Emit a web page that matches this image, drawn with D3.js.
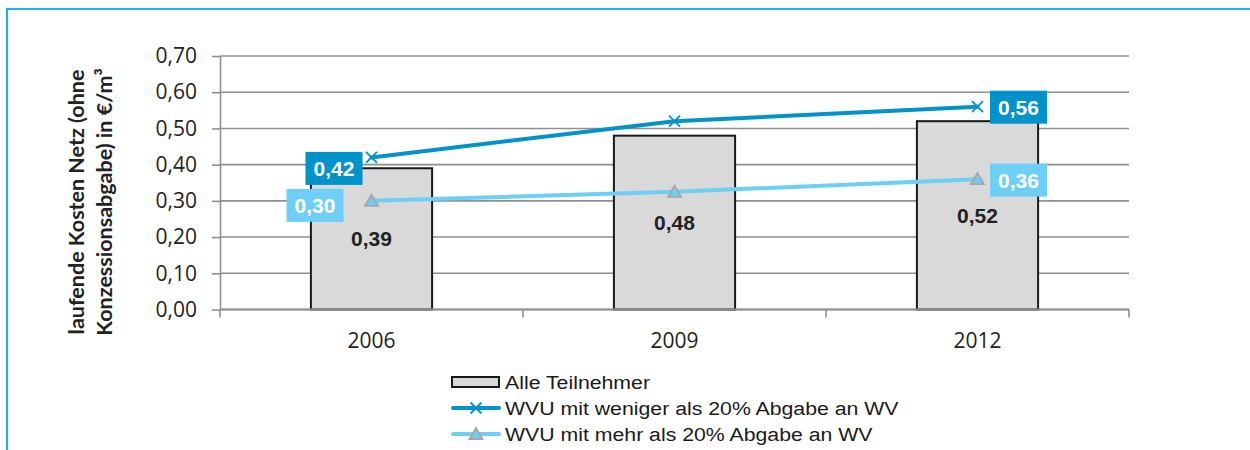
<!DOCTYPE html>
<html>
<head>
<meta charset="utf-8">
<script src="https://cdn.jsdelivr.net/npm/d3@7"></script>
<style>
  html, body { margin: 0; padding: 0; background: #fff; }
  svg { display: block; }
</style>
</head>
<body>
<svg id="chart" width="1250" height="450"></svg>
<script>
// Netzkosten je m³ nach Jahr
const categories = ["2006", "2009", "2012"];
const allParticipants = [0.39, 0.48, 0.52];
const lessThan20 = [0.42, 0.52, 0.56];
const moreThan20 = [0.30, 0.325, 0.36];
const labelledPoints = [0, 2];
const yTicks = [0, 0.1, 0.2, 0.3, 0.4, 0.5, 0.6, 0.7];
const seriesNames = [
  "Alle Teilnehmer",
  "WVU mit weniger als 20% Abgabe an WV",
  "WVU mit mehr als 20% Abgabe an WV"
];
const yTitle = ["laufende Kosten Netz (ohne", "Konzessionsabgabe) in €/m³"];

// layout
const plot = { left: 220, right: 1129, top: 56, bottom: 309.5 };
const DARK = "#0093c9", LIGHT = "#6dcff6", GRID = "#8f8f8f";
// label box placement relative to its point: side, vertical shift
const darkLabelPos = [{ side: "left", gap: 9, dy: 11 }, null, { side: "right", gap: 12.5, dy: 0.5 }];
const lightLabelPos = [{ side: "left", gap: 28, dy: 4.5 }, null, { side: "right", gap: 12.5, dy: 1 }];

const fmt = v => d3.format(".2f")(v).replace(".", ",");

const svg = d3.select("#chart");

// frame
svg.append("path")
  .attr("d", "M7,450 V9 H1250")
  .attr("fill", "none").attr("stroke", "#1cb3ea").attr("stroke-width", 2);

const x = d3.scaleBand().domain(categories)
  .range([plot.left, plot.right]).paddingInner(0.6).paddingOuter(0.3);
const y = d3.scaleLinear().domain([0, 0.7]).range([plot.bottom, plot.top]);
const cx = c => x(c) + x.bandwidth() / 2;

// gridlines
svg.append("g").selectAll("line").data(yTicks).join("line")
  .attr("x1", plot.left).attr("x2", plot.right)
  .attr("y1", d => y(d)).attr("y2", d => y(d))
  .attr("stroke", GRID).attr("stroke-width", 1.6);

// y axis
const yAxis = svg.append("g").attr("transform", `translate(${plot.left},0)`)
  .call(d3.axisLeft(y).tickValues(yTicks).tickFormat(fmt).tickSize(8).tickSizeOuter(0).tickPadding(15));
yAxis.select(".domain").attr("stroke", GRID).attr("stroke-width", 1.6);
yAxis.selectAll(".tick line").attr("stroke", GRID).attr("stroke-width", 1.6);
yAxis.selectAll(".tick text")
  .attr("font-family", "'Open Sans', sans-serif").attr("font-size", 21).attr("fill", "#222");

// bars
svg.append("g").selectAll("rect").data(allParticipants).join("rect")
  .attr("x", (d, i) => x(categories[i]))
  .attr("width", x.bandwidth())
  .attr("y", d => y(d))
  .attr("height", d => y(0) - y(d))
  .attr("fill", "#d9d9d9").attr("stroke", "#1a1a1a").attr("stroke-width", 2);

// x axis
const step = x.step();
svg.append("line")
  .attr("x1", plot.left).attr("x2", plot.right)
  .attr("y1", y(0)).attr("y2", y(0))
  .attr("stroke", GRID).attr("stroke-width", 2);
const boundaries = d3.range(categories.length + 1).map(i => plot.left + i * step);
svg.append("g").selectAll("line").data(boundaries).join("line")
  .attr("x1", d => d).attr("x2", d => d)
  .attr("y1", y(0)).attr("y2", y(0) + 8)
  .attr("stroke", GRID).attr("stroke-width", 1.6);
svg.append("g").selectAll("text").data(categories).join("text")
  .attr("x", d => cx(d)).attr("y", 348)
  .attr("text-anchor", "middle")
  .attr("font-family", "'Open Sans', sans-serif").attr("font-size", 21).attr("fill", "#222")
  .text(d => d);

// bar value labels, centred in the bar
svg.append("g").selectAll("text").data(allParticipants).join("text")
  .attr("x", (d, i) => cx(categories[i]))
  .attr("y", d => y(d / 2))
  .attr("dy", "0.36em")
  .attr("text-anchor", "middle")
  .attr("font-family", "'Liberation Sans', Arial, sans-serif").attr("font-weight", "bold")
  .attr("font-size", 21).attr("fill", "#222")
  .text(d => fmt(d));

// lines
const line = d3.line().x((d, i) => cx(categories[i])).y(d => y(d));
svg.append("path").datum(lessThan20).attr("d", line)
  .attr("fill", "none").attr("stroke", DARK).attr("stroke-width", 4).attr("stroke-linecap", "round");
svg.append("path").datum(moreThan20).attr("d", line)
  .attr("fill", "none").attr("stroke", LIGHT).attr("stroke-width", 4).attr("stroke-linecap", "round");

// markers
const cross = (g, px, py) => g.append("path")
  .attr("d", `M${px - 5.5},${py - 5.5}L${px + 5.5},${py + 5.5}M${px - 5.5},${py + 5.5}L${px + 5.5},${py - 5.5}`)
  .attr("stroke", DARK).attr("stroke-width", 1.8).attr("fill", "none");
const tri = (g, px, py) => g.append("path")
  .attr("d", `M${px},${py - 6}L${px + 6.5},${py + 5}L${px - 6.5},${py + 5}Z`)
  .attr("fill", LIGHT).attr("stroke", "#a6a6a6").attr("stroke-width", 1.8);
const mk = svg.append("g");
lessThan20.forEach((d, i) => cross(mk, cx(categories[i]), y(d)));
moreThan20.forEach((d, i) => tri(mk, cx(categories[i]), y(d)));

// boxed value labels
const boxW = 57, boxH = 33;
function boxLabels(values, pos, color) {
  const g = svg.append("g");
  labelledPoints.forEach(i => {
    const px = cx(categories[i]), py = y(values[i]), p = pos[i];
    const bx = p.side === "left" ? px - p.gap - boxW : px + p.gap;
    const by = py + p.dy - boxH / 2;
    g.append("rect").attr("x", bx).attr("y", by).attr("width", boxW).attr("height", boxH).attr("fill", color);
    g.append("text").attr("x", bx + boxW / 2).attr("y", by + boxH / 2).attr("dy", "0.36em")
      .attr("text-anchor", "middle")
      .attr("font-family", "'Liberation Sans', Arial, sans-serif").attr("font-weight", "bold")
      .attr("font-size", 21).attr("fill", "#fff")
      .text(fmt(values[i]));
  });
}
boxLabels(lessThan20, darkLabelPos, DARK);
boxLabels(moreThan20, lightLabelPos, LIGHT);

// y axis title
const yt = svg.append("text")
  .attr("transform", "translate(0,202) rotate(-90)")
  .attr("text-anchor", "middle")
  .attr("font-family", "Lato, sans-serif").attr("font-weight", "bold")
  .attr("font-size", 21.5).attr("fill", "#222");
yt.selectAll("tspan").data(yTitle).join("tspan")
  .attr("x", 0).attr("y", (d, i) => 84 + i * 28)
  .text(d => d);

// legend
const legend = svg.append("g");
const rowY = [382, 408, 434];
legend.append("rect").attr("x", 452).attr("y", rowY[0] - 5).attr("width", 47).attr("height", 10)
  .attr("fill", "#d9d9d9").attr("stroke", "#1a1a1a").attr("stroke-width", 2);
legend.append("line").attr("x1", 453).attr("x2", 499).attr("y1", rowY[1]).attr("y2", rowY[1])
  .attr("stroke", DARK).attr("stroke-width", 4).attr("stroke-linecap", "round");
cross(legend, 476, rowY[1]);
legend.append("line").attr("x1", 453).attr("x2", 499).attr("y1", rowY[2]).attr("y2", rowY[2])
  .attr("stroke", LIGHT).attr("stroke-width", 4).attr("stroke-linecap", "round");
tri(legend, 476, rowY[2]);
legend.selectAll("text.lg").data(seriesNames).join("text")
  .attr("class", "lg")
  .attr("transform", (d, i) => `translate(505,${rowY[i] + 6.5}) scale(1.12,1)`)
  .attr("font-family", "'Liberation Sans', Arial, sans-serif")
  .attr("font-size", 19).attr("fill", "#1a1a1a")
  .text(d => d);
</script>
</body>
</html>
